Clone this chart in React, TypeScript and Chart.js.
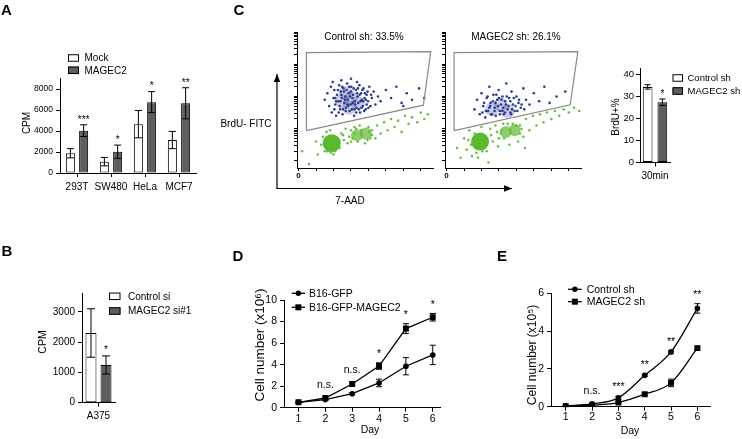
import React, { useEffect, useRef } from 'react';
import { Chart, registerables } from 'chart.js';
Chart.register(...registerables);

const FF = '"Liberation Sans", Arial, Helvetica, sans-serif';
const PAGE_W = 742;
const PAGE_H = 439;
const DARK = '#5e5e5e';
const BLUE = '#2b3990';
const GREEN = '#6dbe45';
const GREEN_CORE = '#5cb82e';

// ---------- Panel A ----------
const cellLinesA = ['293T', 'SW480', 'HeLa', 'MCF7'];
const mockA = [1880, 1080, 4650, 3140];
const mockErrA = [440, 400, 1300, 820];
const magec2A = [4030, 2030, 6750, 6640];
const magec2ErrA = [560, 630, 1000, 1480];
const sigA = ['***', '*', '*', '**'];
const yTicksA = [0, 2000, 4000, 6000, 8000];

// ---------- Panel B ----------
const cellLinesB = ['A375'];
const controlSiB = [2300];
const controlSiErrB = [800];
const magec2SiB = [1245];
const magec2SiErrB = [300];
const sigB = ['*'];
const yTicksB = [0, 1000, 2000, 3000];

// ---------- Panel C (bar) ----------
const timeC = ['30min'];
const brduControl = [34.5];
const brduControlErr = [1.0];
const brduMagec2 = [27.5];
const brduMagec2Err = [1.5];
const sigC = ['*'];
const yTicksC = [0, 10, 20, 30, 40];

// ---------- Panel C (flow plots): x = 7-AAD channel, y = log10(BrdU-FITC) ----------
const flowXTicks = [0, 100, 200, 300, 400, 500, 600, 700];
const flowDecades = [0, 1, 2, 3];
const gateCtrl = [[45, 0.94], [45, 3.36], [757, 3.39], [715, 1.73], [45, 0.94]];
const gateMag = [[43, 0.94], [43, 3.36], [752, 3.39], [708, 1.74], [43, 0.94]];
const ctrlBlue = [
  [150, 1.9], [165, 2.1], [175, 1.7], [185, 2.3], [190, 1.5], [200, 1.95], [205, 2.2], [210, 1.75],
  [215, 1.4], [220, 2.05], [228, 1.85], [232, 2.35], [238, 1.6], [242, 2.15], [248, 1.95], [252, 1.45],
  [258, 2.25], [262, 1.8], [268, 2.0], [272, 1.65], [278, 2.4], [282, 1.9], [288, 2.1], [292, 1.55],
  [298, 1.75], [302, 2.3], [308, 1.95], [312, 2.05], [318, 1.4], [322, 1.85], [328, 2.2], [332, 1.65],
  [338, 2.0], [342, 1.8], [348, 2.35], [352, 1.5], [358, 2.1], [362, 1.9], [368, 1.7], [372, 2.25],
  [378, 1.95], [385, 1.6], [390, 2.05], [398, 1.85], [405, 2.3], [412, 1.7], [420, 1.95], [430, 2.15],
  [440, 1.75], [455, 2.0], [470, 1.85], [500, 2.2], [530, 1.95], [560, 2.3], [590, 1.8], [620, 2.1],
  [650, 1.9], [690, 2.25], [720, 1.95], [600, 1.7], [195, 2.45], [245, 2.5], [300, 2.55], [335, 2.45],
  [205, 1.6], [215, 1.85], [225, 2.2], [235, 1.7], [245, 2.05], [255, 1.6], [265, 1.9], [275, 2.2],
  [285, 1.7], [295, 2.0], [305, 1.6], [315, 2.25], [325, 1.75], [335, 2.1], [345, 1.6], [355, 1.85],
  [365, 2.2], [375, 1.55], [385, 1.9], [395, 2.15], [210, 1.95], [230, 1.5], [250, 2.3], [270, 1.55],
  [290, 2.3], [310, 1.8], [330, 1.5], [350, 2.05], [370, 1.85], [390, 1.75], [240, 1.85], [260, 2.15],
  [280, 1.75], [300, 2.15], [320, 1.6], [340, 2.25], [360, 1.65], [380, 2.1], [400, 1.65], [415, 2.05],
];
const ctrlBlueCore = [[250, 1.85], [300, 1.95], [340, 1.8], [290, 1.65], [270, 2.1]];
const ctrlGreen = [
  [130, 0.5], [140, 0.75], [150, 0.3], [160, 0.9], [235, 0.4], [245, 0.85], [260, 0.65], [270, 1.0],
  [280, 0.55], [300, 0.95], [310, 0.7], [320, 1.05], [420, 0.95], [440, 0.7], [450, 1.1], [470, 0.85],
  [490, 1.2], [510, 0.95], [530, 1.3], [550, 1.05], [570, 1.25], [590, 0.9], [610, 1.4], [630, 1.15],
  [650, 1.35], [680, 1.2], [700, 1.5], [720, 1.3], [740, 1.45], [380, 0.55], [400, 1.05], [350, 1.1],
  [200, 0.2], [180, 0.95], [100, 0.6], [110, 0.2], [60, -0.1], [20, 0.3],
  [170, 0.4], [175, 0.7], [205, 0.75], [215, 0.45], [220, 0.65], [165, 0.3], [210, 0.3], [230, 0.6],
  [290, 0.75], [300, 0.6], [320, 0.85], [410, 0.7], [420, 0.8], [395, 0.65], [340, 0.6], [360, 0.95],
  [405, 0.9], [330, 1.0], [255, 0.8], [185, 0.25],
];
const ctrlGreenCore = [[190, 0.55], [335, 0.8], [385, 0.85]];
const magBlue = [
  [160, 1.6], [175, 1.9], [190, 1.45], [200, 2.1], [210, 1.7], [222, 1.35], [230, 1.95], [238, 1.55],
  [245, 2.3], [252, 1.8], [260, 1.45], [268, 2.05], [275, 1.65], [282, 1.4], [290, 1.9], [298, 2.2],
  [305, 1.55], [312, 1.75], [320, 2.0], [328, 1.45], [335, 1.85], [342, 2.4], [350, 1.6], [358, 1.95],
  [365, 1.5], [372, 2.15], [380, 1.75], [390, 1.55], [400, 2.0], [412, 1.8], [425, 1.65], [440, 2.25],
  [455, 1.9], [475, 1.75], [500, 2.1], [530, 1.85], [560, 2.3], [590, 1.8], [630, 2.0], [680, 2.15],
  [205, 1.5], [215, 1.8], [225, 1.55], [235, 2.0], [245, 1.65], [255, 1.45], [265, 1.85], [275, 1.55],
  [285, 2.05], [295, 1.7], [305, 1.45], [315, 1.9], [325, 1.65], [335, 1.5], [345, 2.0], [355, 1.7],
  [365, 1.85], [375, 1.6], [385, 1.95], [395, 1.7], [405, 1.55], [415, 1.9], [430, 1.75], [445, 1.6],
  [250, 1.7], [280, 1.8], [300, 1.95], [340, 1.75], [370, 1.45], [320, 1.55],
];
const magBlueCore = [[260, 1.6], [310, 1.75], [350, 1.55]];
const magGreen = [
  [60, 0.4], [80, 0.1], [100, 0.7], [115, 0.35], [130, 0.95], [145, 0.15], [160, 0.85], [230, 0.3],
  [250, 1.0], [265, 0.6], [280, 1.1], [295, 0.45], [310, 0.85], [325, 1.15], [420, 1.1], [440, 0.75],
  [455, 1.3], [475, 0.95], [495, 1.4], [515, 1.1], [535, 1.45], [555, 1.2], [575, 1.5], [600, 1.3],
  [620, 1.55], [645, 1.4], [670, 1.6], [700, 1.5], [730, 1.65], [760, 1.55], [360, 0.5], [410, 0.6],
  [200, 1.05], [180, 0.1], [240, -0.05], [450, 0.4],
  [165, 0.45], [175, 0.75], [210, 0.8], [215, 0.4], [225, 0.6], [150, 0.55], [205, 0.3], [300, 0.7],
  [315, 0.95], [330, 0.7], [420, 0.85], [430, 1.0], [400, 1.1], [350, 1.15], [380, 1.15], [290, 0.9],
  [255, 0.8], [170, 0.25], [140, 0.5], [125, 0.65],
];
const magGreenCore = [[192, 0.6], [340, 0.9], [390, 0.95]];

// ---------- Panel D ----------
const daysDE = [1, 2, 3, 4, 5, 6];
const b16Gfp = [0.5, 0.75, 1.3, 2.3, 3.85, 4.9];
const b16GfpErr = [0.05, 0.08, 0.1, 0.35, 0.8, 0.9];
const b16Magec2 = [0.5, 0.9, 2.2, 3.87, 7.35, 8.4];
const b16Magec2Err = [0.05, 0.1, 0.15, 0.3, 0.45, 0.35];
const sigD = ['', 'n.s.', 'n.s.', '*', '*', '*'];
const yTicksD = [0, 2, 4, 6, 8, 10];

// ---------- Panel E ----------
const controlShE = [0.05, 0.15, 0.47, 1.66, 2.9, 5.2];
const controlShErrE = [0.02, 0.03, 0.08, 0.06, 0.06, 0.25];
const magec2ShE = [0.02, 0.08, 0.22, 0.66, 1.26, 3.1];
const magec2ShErrE = [0.02, 0.03, 0.05, 0.06, 0.2, 0.1];
const sigE = ['', 'n.s.', '***', '**', '**', '**'];
const yTicksE = [0, 2, 4, 6];

// ---------- helpers ----------
const toXY = (arr: number[][]) => arr.map(([x, y]) => ({ x, y }));

function valOf(raw: any) {
  return typeof raw === 'number' ? raw : raw.y;
}

function drawErrors(chart: any, o: any) {
  const ctx = chart.ctx;
  const cap = o.cap ?? 3.5;
  chart.data.datasets.forEach((ds: any, di: number) => {
    if (!ds.errors) return;
    const meta = chart.getDatasetMeta(di);
    const ys = chart.scales[meta.yAxisID];
    meta.data.forEach((el: any, i: number) => {
      const v = valOf(ds.data[i]);
      const e = ds.errors[i];
      if (!e) return;
      const x = el.x;
      const yT = ys.getPixelForValue(v + e);
      const yB = ys.getPixelForValue(Math.max(v - e, ys.min));
      ctx.save();
      ctx.strokeStyle = '#000';
      ctx.lineWidth = 1;
      ctx.beginPath();
      ctx.moveTo(x, yT);
      ctx.lineTo(x, yB);
      ctx.moveTo(x - cap, yT);
      ctx.lineTo(x + cap, yT);
      ctx.moveTo(x - cap, yB);
      ctx.lineTo(x + cap, yB);
      ctx.stroke();
      ctx.restore();
    });
  });
}

const extrasPlugin = {
  id: 'extras',
  beforeDatasetsDraw(chart: any, _a: any, o: any) {
    if (o.errorsBelow) drawErrors(chart, o);
  },
  afterDatasetsDraw(chart: any, _a: any, o: any) {
    if (!o.errorsBelow) drawErrors(chart, o);
  },
  afterDraw(chart: any, _a: any, o: any) {
    const ctx = chart.ctx;
    if (o.sig) {
      const { labels, size, offset, ds } = o.sig;
      labels.forEach((t: string, i: number) => {
        if (!t) return;
        let x: number | null = null;
        let top = Infinity;
        chart.data.datasets.forEach((d: any, di: number) => {
          if (!d.errors) return;
          if (ds != null && di !== ds) return;
          const meta = chart.getDatasetMeta(di);
          const el = meta.data[i];
          const ys = chart.scales[meta.yAxisID];
          const p = ys.getPixelForValue(valOf(d.data[i]) + (d.errors[i] || 0));
          if (p < top) top = p;
          if (x == null) x = el.x;
        });
        const cy = top - offset;
        const star = /^\*+$/.test(t);
        ctx.save();
        ctx.fillStyle = '#000';
        ctx.font = `${size}px ${FF}`;
        ctx.textAlign = 'center';
        ctx.textBaseline = 'alphabetic';
        ctx.fillText(t, x as number, cy + (star ? 0.58 : 0.27) * size);
        ctx.restore();
      });
    }
    if (o.legend) {
      const { items, size, gap } = o.legend;
      items.forEach((it: any) => {
        ctx.save();
        ctx.strokeStyle = '#000';
        ctx.fillStyle = '#000';
        ctx.lineWidth = 1;
        if (it.kind === 'box') {
          ctx.fillStyle = it.fill;
          ctx.fillRect(it.x, it.y - it.h / 2, it.w, it.h);
          ctx.strokeRect(it.x + 0.5, it.y - it.h / 2 + 0.5, it.w - 1, it.h - 1);
        } else {
          ctx.lineWidth = 1.3;
          ctx.beginPath();
          ctx.moveTo(it.x, it.y);
          ctx.lineTo(it.x + it.w, it.y);
          ctx.stroke();
          const cx = it.x + it.w / 2;
          ctx.fillStyle = '#000';
          if (it.marker === 'rect') {
            ctx.fillRect(cx - 3, it.y - 3, 6, 6);
          } else {
            ctx.beginPath();
            ctx.arc(cx, it.y, 2.7, 0, Math.PI * 2);
            ctx.fill();
          }
        }
        ctx.fillStyle = '#000';
        ctx.font = `${size}px ${FF}`;
        ctx.textAlign = 'left';
        ctx.textBaseline = 'middle';
        ctx.fillText(it.text, it.x + it.w + gap, it.y + 0.5);
        ctx.restore();
      });
    }
    (o.arrows || []).forEach((a: any) => {
      ctx.save();
      ctx.strokeStyle = '#000';
      ctx.fillStyle = '#000';
      ctx.lineWidth = 1.2;
      ctx.beginPath();
      ctx.moveTo(a.x1, a.y1);
      ctx.lineTo(a.x2, a.y2);
      ctx.stroke();
      const ang = Math.atan2(a.y2 - a.y1, a.x2 - a.x1);
      const L = 8;
      const Wd = 3.2;
      ctx.beginPath();
      ctx.moveTo(a.x2, a.y2);
      ctx.lineTo(a.x2 - L * Math.cos(ang) + Wd * Math.sin(ang), a.y2 - L * Math.sin(ang) - Wd * Math.cos(ang));
      ctx.lineTo(a.x2 - L * Math.cos(ang) - Wd * Math.sin(ang), a.y2 - L * Math.sin(ang) + Wd * Math.cos(ang));
      ctx.closePath();
      ctx.fill();
      ctx.restore();
    });
    (o.texts || []).forEach((t: any) => {
      ctx.save();
      ctx.fillStyle = '#000';
      ctx.font = `${t.bold ? 'bold ' : ''}${t.size}px ${FF}`;
      ctx.textAlign = t.align || 'center';
      ctx.textBaseline = t.base || 'middle';
      ctx.translate(t.x, t.y);
      if (t.rot) ctx.rotate((t.rot * Math.PI) / 180);
      ctx.fillText(t.t, 0, 0);
      ctx.restore();
    });
  },
};

type Area = { l: number; r: number; t: number; b: number };

function base(area: Area, yw: number, xh: number, extras: any) {
  return {
    responsive: false,
    maintainAspectRatio: false,
    animation: false,
    devicePixelRatio: 1,
    events: [],
    layout: {
      padding: { left: area.l - yw, right: PAGE_W - area.r, top: area.t, bottom: PAGE_H - area.b - xh },
    },
    plugins: { legend: { display: false }, tooltip: { enabled: false }, title: { display: false }, extras },
  };
}

const axisBorder = { display: true, color: '#000', width: 1 };

function yLin(min: number, max: number, tickVals: number[], size: number, yw: number, pad = 3) {
  return {
    type: 'linear',
    min,
    max,
    afterBuildTicks: (s: any) => {
      s.ticks = tickVals.map((v) => ({ value: v }));
    },
    afterFit: (s: any) => {
      s.width = yw;
    },
    border: axisBorder,
    grid: { display: true, drawOnChartArea: false, drawTicks: true, tickLength: 4, color: '#000', tickColor: '#000' },
    ticks: { font: { family: FF, size }, color: '#000', padding: pad, callback: (v: any) => String(v) },
  };
}

function xCat(size: number, xh: number, pad: number) {
  return {
    type: 'category',
    offset: true,
    afterFit: (s: any) => {
      s.height = xh;
    },
    border: axisBorder,
    grid: { display: true, drawOnChartArea: false, offset: false, tickLength: 4, color: '#000', tickColor: '#000' },
    ticks: { font: { family: FF, size }, color: '#000', padding: pad, maxRotation: 0, autoSkip: false },
  };
}

function xDays(min: number, max: number, size: number, xh: number, pad: number) {
  return {
    type: 'linear',
    min,
    max,
    afterBuildTicks: (s: any) => {
      s.ticks = daysDE.map((v) => ({ value: v }));
    },
    afterFit: (s: any) => {
      s.height = xh;
    },
    border: axisBorder,
    grid: { display: true, drawOnChartArea: false, tickLength: 4, color: '#000', tickColor: '#000' },
    ticks: { font: { family: FF, size }, color: '#000', padding: pad, callback: (v: any) => String(v) },
  };
}

function barDs(label: string, data: number[], errors: number[], fill: string, cat: number, bar: number) {
  return {
    label,
    data,
    errors,
    backgroundColor: fill,
    borderColor: '#000',
    borderWidth: 1,
    borderSkipped: false,
    categoryPercentage: cat,
    barPercentage: bar,
  };
}

function lineDs(label: string, vals: number[], errors: number[], marker: string, smooth: boolean) {
  return {
    label,
    data: daysDE.map((d, i) => ({ x: d, y: vals[i] })),
    errors,
    borderColor: '#000',
    borderWidth: 1.3,
    pointStyle: marker,
    pointRadius: marker === 'rect' ? 4.2 : 2.8,
    pointBackgroundColor: '#000',
    pointBorderColor: '#000',
    pointBorderWidth: 0,
    fill: false,
    tension: 0,
    cubicInterpolationMode: smooth ? 'monotone' : 'default',
  };
}

// ---------- configs ----------
function configA() {
  const area = { l: 60, r: 196, t: 78.5, b: 173 };
  return {
    type: 'bar',
    data: {
      labels: cellLinesA,
      datasets: [
        barDs('Mock', mockA, mockErrA, '#ffffff', 0.78, 0.68),
        barDs('MAGEC2', magec2A, magec2ErrA, DARK, 0.78, 0.68),
      ],
    },
    options: {
      ...base(area, 40, 25, {
        cap: 3.5,
        sig: { labels: sigA, size: 10, offset: 8, ds: 1 },
        legend: {
          size: 10,
          gap: 5.5,
          items: [
            { kind: 'box', x: 68, y: 58, w: 11, h: 7.5, fill: '#ffffff', text: 'Mock' },
            { kind: 'box', x: 68, y: 70.3, w: 11, h: 7.5, fill: DARK, text: 'MAGEC2' },
          ],
        },
        texts: [
          { t: 'A', x: 1, y: 15, size: 15, bold: true, align: 'left', base: 'alphabetic' },
          { t: 'CPM', x: 27.5, y: 123, size: 10, rot: -90 },
        ],
      }),
      scales: { x: xCat(10, 25, 4), y: yLin(0, 9000, yTicksA, 8.5, 40, 3) },
    },
    plugins: [extrasPlugin],
  };
}

function configB() {
  const area = { l: 82, r: 115, t: 293.6, b: 402.7 };
  return {
    type: 'bar',
    data: {
      labels: cellLinesB,
      datasets: [
        barDs('Control si', controlSiB, controlSiErrB, '#ffffff', 0.91, 0.73),
        barDs('MAGEC2 si#1', magec2SiB, magec2SiErrB, DARK, 0.91, 0.73),
      ],
    },
    options: {
      ...base(area, 40, 25, {
        cap: 4,
        sig: { labels: sigB, size: 10, offset: 9, ds: 1 },
        legend: {
          size: 10,
          gap: 7.5,
          items: [
            { kind: 'box', x: 109, y: 296.3, w: 11.5, h: 7.5, fill: '#ffffff', text: 'Control si' },
            { kind: 'box', x: 109, y: 311, w: 11.5, h: 7.5, fill: DARK, text: 'MAGEC2 si#1' },
          ],
        },
        texts: [
          { t: 'B', x: 1.5, y: 255.5, size: 15, bold: true, align: 'left', base: 'alphabetic' },
          { t: 'CPM', x: 43, y: 342, size: 10.5, rot: -90 },
        ],
      }),
      scales: { x: xCat(10, 25, 4), y: yLin(0, 3600, yTicksB, 10, 40) },
    },
    plugins: [extrasPlugin],
  };
}

function configCbar() {
  const area = { l: 640, r: 670, t: 68.3, b: 162.5 };
  return {
    type: 'bar',
    data: {
      labels: timeC,
      datasets: [
        barDs('Control sh', brduControl, brduControlErr, '#ffffff', 0.98, 0.66),
        barDs('MAGEC2 sh', brduMagec2, brduMagec2Err, DARK, 0.98, 0.66),
      ],
    },
    options: {
      ...base(area, 30, 25, {
        cap: 3,
        sig: { labels: sigC, size: 10, offset: 8, ds: 1 },
        legend: {
          size: 9.5,
          gap: 4.5,
          items: [
            { kind: 'box', x: 672.5, y: 78, w: 10.5, h: 7.5, fill: '#ffffff', text: 'Control sh' },
            { kind: 'box', x: 672.5, y: 91, w: 10.5, h: 7.5, fill: DARK, text: 'MAGEC2 sh' },
          ],
        },
        texts: [{ t: 'BrdU+%', x: 616.7, y: 117, size: 10, rot: -90 }],
      }),
      scales: { x: xCat(10, 25, 4), y: yLin(0, 43, yTicksC, 9.5, 30, 2) },
    },
    plugins: [extrasPlugin],
  };
}

function flowConfig(
  left: number,
  gate: number[][],
  blue: number[][],
  blueCore: number[][],
  green: number[][],
  greenCore: number[][],
  extras: any
) {
  const area = { l: left, r: left + 136, t: 32, b: 168 };
  return {
    type: 'scatter',
    data: {
      datasets: [
        {
          data: toXY(gate),
          showLine: true,
          pointRadius: 0,
          borderColor: '#8a8a8a',
          borderWidth: 1.2,
          fill: false,
          tension: 0,
        },
        { data: toXY(blue), pointRadius: 1.3, backgroundColor: BLUE, borderWidth: 0 },
        { data: toXY(blueCore), pointRadius: 7, backgroundColor: 'rgba(43,57,144,0.25)', borderWidth: 0 },
        {
          data: toXY(greenCore),
          pointRadius: [9, 6, 6],
          backgroundColor: [GREEN_CORE, 'rgba(92,184,46,0.7)', 'rgba(92,184,46,0.7)'],
          borderWidth: 0,
        },
        { data: toXY(green), pointRadius: 1.3, backgroundColor: GREEN, borderWidth: 0 },
      ],
    },
    options: {
      ...base(area, 4, 14, extras),
      scales: {
        x: {
          type: 'linear',
          min: -9,
          max: 770,
          afterBuildTicks: (s: any) => {
            s.ticks = flowXTicks.map((v) => ({ value: v }));
          },
          afterFit: (s: any) => {
            s.height = 14;
          },
          border: axisBorder,
          grid: { display: true, drawOnChartArea: false, tickLength: 3, color: '#000', tickColor: '#000' },
          ticks: {
            font: { family: FF, size: 8, weight: 'bold' },
            color: '#000',
            padding: 0,
            callback: (v: any) => (v === 0 ? '0' : ''),
          },
        },
        y: {
          type: 'linear',
          min: -0.22,
          max: 4.0,
          afterBuildTicks: (s: any) => {
            const t: any[] = [];
            flowDecades.forEach((k) => {
              for (let n = 1; n <= 9; n++) t.push({ value: k + Math.log10(n) });
            });
            t.push({ value: 4 });
            s.ticks = t;
          },
          afterFit: (s: any) => {
            s.width = 4;
          },
          border: axisBorder,
          grid: { display: true, drawOnChartArea: false, tickLength: 3, color: '#000', tickColor: '#000' },
          ticks: { display: false },
        },
      },
    },
    plugins: [extrasPlugin],
  };
}

function configFlow1() {
  return flowConfig(297, gateCtrl, ctrlBlue, ctrlBlueCore, ctrlGreen, ctrlGreenCore, {
    texts: [
      { t: 'C', x: 233.5, y: 14.5, size: 15, bold: true, align: 'left', base: 'alphabetic' },
      { t: 'Control sh: 33.5%', x: 364, y: 37, size: 10 },
      { t: 'BrdU- FITC', x: 246, y: 124, size: 10 },
      { t: '7-AAD', x: 350, y: 201, size: 10 },
    ],
    arrows: [
      { x1: 277, y1: 188.5, x2: 277, y2: 74 },
      { x1: 276.5, y1: 188.5, x2: 512, y2: 188.5 },
    ],
  });
}

function configFlow2() {
  return flowConfig(445, gateMag, magBlue, magBlueCore, magGreen, magGreenCore, {
    texts: [{ t: 'MAGEC2 sh: 26.1%', x: 516, y: 37, size: 10 }],
  });
}

function configD() {
  const area = { l: 284, r: 440, t: 300, b: 407.7 };
  return {
    type: 'line',
    data: {
      datasets: [
        lineDs('B16-GFP', b16Gfp, b16GfpErr, 'circle', false),
        lineDs('B16-GFP-MAGEC2', b16Magec2, b16Magec2Err, 'rect', false),
      ],
    },
    options: {
      ...base(area, 30, 25, {
        cap: 3,
        errorsBelow: true,
        sig: { labels: sigD, size: 10.5, offset: 12 },
        legend: {
          size: 10.5,
          gap: 4,
          items: [
            { kind: 'line', marker: 'circle', x: 291.7, y: 293.3, w: 13.3, text: 'B16-GFP' },
            { kind: 'line', marker: 'rect', x: 291.7, y: 307.3, w: 13.3, text: 'B16-GFP-MAGEC2' },
          ],
        },
        texts: [
          { t: 'D', x: 232.5, y: 260.5, size: 15, bold: true, align: 'left', base: 'alphabetic' },
          { t: 'Cell number (x10\u2076)', x: 260, y: 345, size: 13.5, rot: -90 },
          { t: 'Day', x: 370, y: 430, size: 10.5 },
        ],
      }),
      scales: { x: xDays(0.46, 6.27, 10.5, 25, 1), y: yLin(0, 10, yTicksD, 10.5, 30) },
    },
    plugins: [extrasPlugin],
  };
}

function configE() {
  const area = { l: 551, r: 710, t: 293.3, b: 406.7 };
  return {
    type: 'line',
    data: {
      datasets: [
        lineDs('Control sh', controlShE, controlShErrE, 'circle', true),
        lineDs('MAGEC2 sh', magec2ShE, magec2ShErrE, 'rect', true),
      ],
    },
    options: {
      ...base(area, 30, 25, {
        cap: 3,
        errorsBelow: true,
        sig: { labels: sigE, size: 10.5, offset: 12 },
        legend: {
          size: 10.5,
          gap: 5,
          items: [
            { kind: 'line', marker: 'circle', x: 568, y: 289.3, w: 13.7, text: 'Control sh' },
            { kind: 'line', marker: 'rect', x: 568, y: 301.7, w: 13.7, text: 'MAGEC2 sh' },
          ],
        },
        texts: [
          { t: 'E', x: 497, y: 260.5, size: 15, bold: true, align: 'left', base: 'alphabetic' },
          { t: 'Cell number (x10\u2075)', x: 533, y: 355, size: 12, rot: -90 },
          { t: 'Day', x: 630, y: 431, size: 10.5 },
        ],
      }),
      scales: { x: xDays(0.44, 6.48, 10.5, 25, 0.5), y: yLin(0, 6, yTicksE, 10.5, 30) },
    },
    plugins: [extrasPlugin],
  };
}

function ChartLayer({ make }: { make: () => any }) {
  const ref = useRef<HTMLCanvasElement>(null);
  useEffect(() => {
    const chart = new Chart(ref.current as HTMLCanvasElement, make());
    return () => chart.destroy();
  }, []);
  return (
    <canvas
      ref={ref}
      width={PAGE_W}
      height={PAGE_H}
      style={{ position: 'absolute', left: 0, top: 0, width: PAGE_W, height: PAGE_H }}
    />
  );
}

export default function App() {
  return (
    <div
      style={{
        position: 'fixed',
        left: 0,
        top: 0,
        width: PAGE_W,
        height: PAGE_H,
        background: '#ffffff',
        overflow: 'hidden',
      }}
    >
      <ChartLayer make={configA} />
      <ChartLayer make={configB} />
      <ChartLayer make={configFlow1} />
      <ChartLayer make={configFlow2} />
      <ChartLayer make={configCbar} />
      <ChartLayer make={configD} />
      <ChartLayer make={configE} />
    </div>
  );
}
